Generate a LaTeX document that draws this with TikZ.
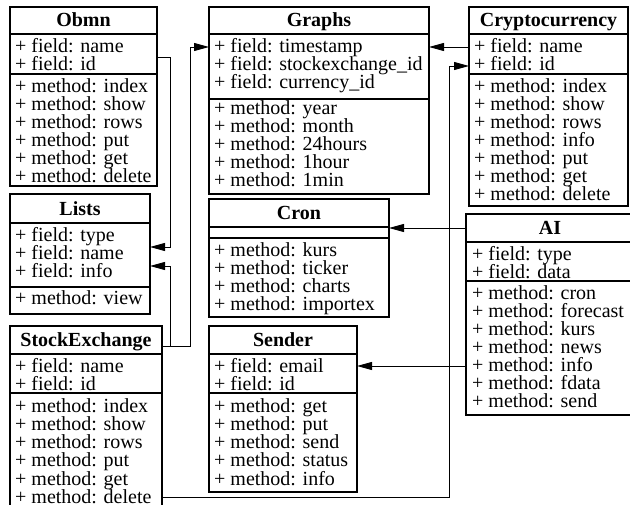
\documentclass[tikz,border=0pt]{standalone}
\usepackage{fontspec}
\setmainfont{Liberation Serif}
\usetikzlibrary{arrows.meta,calc}
\tikzset{
  frame/.style={draw,line width=1.2pt,outer sep=0pt,inner sep=0pt,anchor=north west},
  row/.style={anchor=base west,inner sep=0pt,font=\fontsize{20}{18}\selectfont},
  ttl/.style={anchor=base,inner sep=0pt,font=\fontsize{20}{18}\selectfont\bfseries},
  divider/.style={line width=1.2pt},
  conn/.style={line width=0.9pt,-{Triangle[length=15pt,width=8pt]}},
}
% #1 name, #2 x1, #3 y1, #4 x2, #5 y2, #6 title, #7 first divider, #8 second divider
\newcommand{\umlframe}[8]{%
  \node[frame,minimum width={#4-#2},minimum height={#5-#3}] (#1) at (#2,#3) {};
  \node[ttl] (#1-title) at ({(#2+#4)/2},{#7-7}) {#6};
  \draw[divider] (#2,#7) -- (#4,#7);
  \draw[divider] (#2,#8) -- (#4,#8);
}
% #1 prefix, #2 x, #3 first baseline, #4 list
\newcommand{\umlrows}[4]{%
  \foreach \t [count=\i] in {#4}{\node[row] (#1\i) at (#2,{#3+(\i-1)*18}) {+ \t};}
}
\begin{document}
\begin{tikzpicture}[x=1pt,y=-1pt]
\useasboundingbox (0,0) rectangle (630,505);

% Obmn
\umlframe{obmn}{10}{7}{157}{186}{Obmn}{34}{74}
\umlrows{obmn-f}{15}{53}{field: name, field: id}
\umlrows{obmn-m}{15}{93}{method: index, method: show, method: rows, method: put, method: get, method: delete}

% Graphs
\umlframe{graphs}{209}{7}{429}{194}{Graphs}{34}{99}
\umlrows{graphs-f}{214}{53}{field: timestamp, field: stockexchange\_id, field: currency\_id}
\umlrows{graphs-m}{214}{115}{method: year, method: month, method: 24hours, method: 1hour, method: 1min}

% Cryptocurrency
\umlframe{crypto}{469}{7}{628}{206}{Cryptocurrency}{34}{74}
\umlrows{crypto-f}{474}{53}{field: name, field: id}
\umlrows{crypto-m}{474}{93}{method: index, method: show, method: rows, method: info, method: put, method: get, method: delete}

% Lists
\umlframe{lists}{10}{194}{150}{314}{Lists}{223}{287}
\umlrows{lists-f}{15}{242}{field: type, field: name, field: info}
\umlrows{lists-m}{15}{305}{method: view}

% StockExchange
\umlframe{stock}{10}{326}{162}{510}{StockExchange}{354}{393}
\umlrows{stock-f}{15}{373}{field: name, field: id}
\umlrows{stock-m}{15}{413}{method: index, method: show, method: rows, method: put, method: get, method: delete}

% Cron
\umlframe{cron}{209}{199}{389}{317}{Cron}{227}{238}
\umlrows{cron-m}{214}{257}{method: kurs, method: ticker, method: charts, method: importex}

% Sender
\umlframe{sender}{209}{326}{357}{492}{Sender}{354}{393}
\umlrows{sender-f}{214}{373}{field: email, field: id}
\umlrows{sender-m}{214}{413}{method: get, method: put, method: send, method: status, method: info}

% AI
\umlframe{ai}{466}{214}{634}{415}{AI}{242}{281}
\umlrows{ai-f}{472}{261}{field: type, field: data}
\umlrows{ai-m}{472}{300}{method: cron, method: forecast, method: kurs, method: news, method: info, method: fdata, method: send}

% connectors
\draw[conn] ($(obmn.north east)+(0,50)$) -| ++(13,190) -- ($(lists.north east)+(0,53)$);
\draw[conn] ($(stock.north east)+(0,20)$) -| ++(8,-80) -- ($(lists.north east)+(0,72)$);
\draw[conn] ($(stock.north east)+(0,20)$) -| ++(28,-299) -- ($(graphs.north west)+(0,40)$);
\draw[conn] ($(stock.north east)+(0,171)$) -| ++(287,-431) -- ($(crypto.north west)+(0,59)$);
\draw[conn] ($(crypto.north west)+(0,40)$) -- ($(graphs.north east)+(0,40)$);
\draw[conn] ($(ai.north west)+(0,14)$) -- ($(cron.north east)+(0,29)$);
\draw[conn] ($(ai.north west)+(0,152)$) -- ($(sender.north east)+(0,40)$);
\end{tikzpicture}
\end{document}
